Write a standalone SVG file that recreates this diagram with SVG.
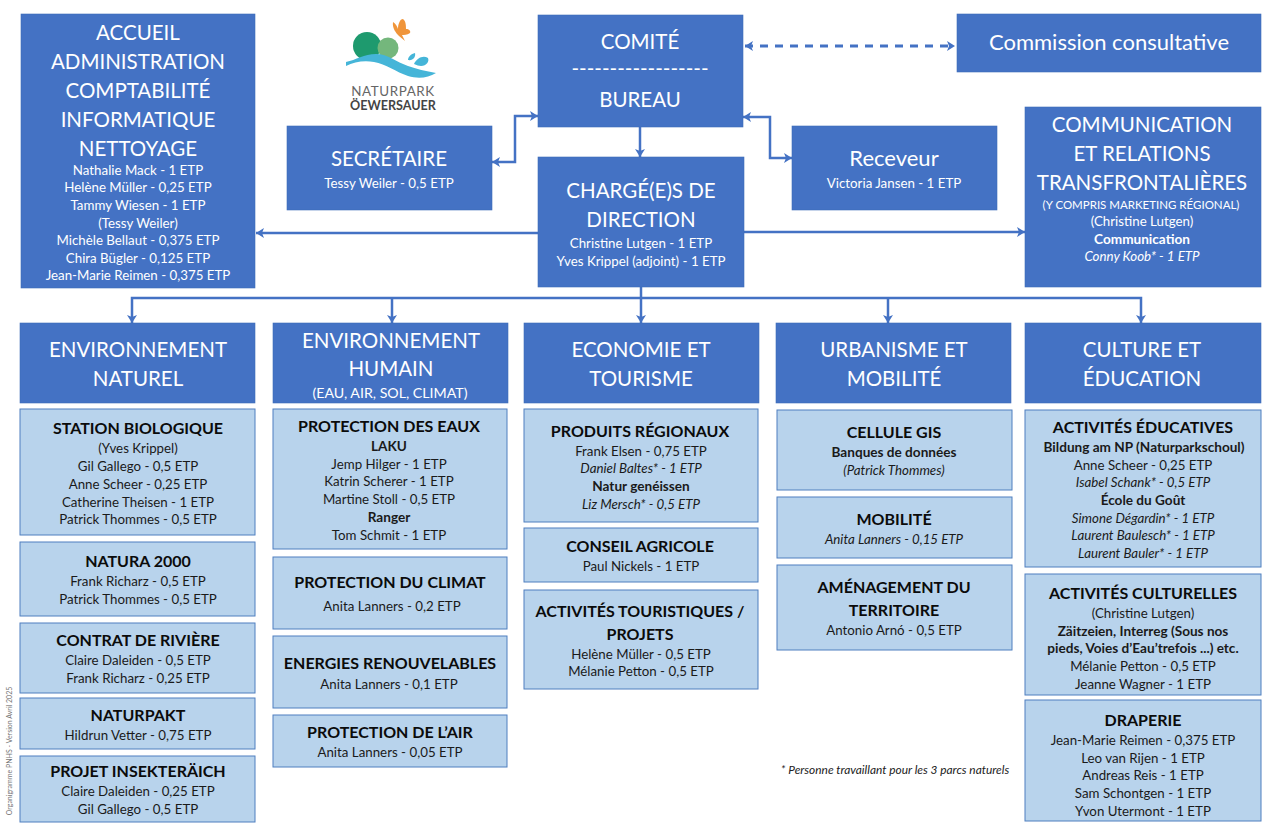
<svg xmlns="http://www.w3.org/2000/svg" width="1280" height="832" viewBox="0 0 1280 832">
<defs>
<style>
text{font-family:Lato,"Open Sans","Liberation Sans",sans-serif;text-anchor:middle}
.d{fill:#4472C4;stroke:#3F6DB8;stroke-width:.6}
.l{fill:#B8D3EC;stroke:#4F7FBF;stroke-width:1}
.t{font-size:20.5px;fill:#fff}
.m{font-size:22px;fill:#fff}
.n{font-size:13.3px;fill:#fff}
.h{font-size:16px;font-weight:700;fill:#0b0b0b}
.b{font-size:13.3px;fill:#1a1a1a}
.s{font-weight:700;font-size:13.6px}
.i{font-style:italic}
.c{fill:none;stroke:#4472C4;stroke-width:2.5}
</style>
<marker id="a" markerUnits="userSpaceOnUse" markerWidth="9" markerHeight="10" refX="8" refY="5" orient="auto-start-reverse"><path d="M0 0L8 5L0 10L2 5Z" fill="#4472C4"/></marker>
</defs>
<rect width="1280" height="832" fill="#fff"/>
<g id="connectors">
<path class="c" d="M745 46H955" style="stroke-width:3.2;stroke-dasharray:8 7" marker-start="url(#a)" marker-end="url(#a)"/>
<path class="c" d="M492 162H515V116H538" marker-start="url(#a)" marker-end="url(#a)"/>
<path class="c" d="M743 117H770V158H792" marker-start="url(#a)" marker-end="url(#a)"/>
<path class="c" d="M640 127V157" marker-end="url(#a)"/>
<path class="c" d="M538 233H256" marker-end="url(#a)"/>
<path class="c" d="M744 232H1025" marker-end="url(#a)"/>
<path class="c" d="M641 287V323" marker-end="url(#a)"/>
<path class="c" d="M132 323V298H1141V323" marker-start="url(#a)" marker-end="url(#a)"/>
<path class="c" d="M392 298V323" marker-end="url(#a)"/>
<path class="c" d="M888 298V323" marker-end="url(#a)"/>
</g>
<g id="logo">
<circle cx="367" cy="46" r="14" fill="#1E9A6E"/>
<circle cx="388" cy="48" r="10.5" fill="#74B77C"/>
<path d="M393 22C396 24 397 26 398 29C398 24 400 19 403 19C406 21 406 26 406 29C409 29 411 31 410 33C407 35 404 35 402 35L405 41L399 36C396 33 392 28 393 22Z" fill="#F0953A"/>
<path d="M346 62C356 60 364 54 376 54C388 54 396 62 408 66C416 69 426 71 436 73C428 78 418 79 408 76C396 72 386 64 374 62C364 60 354 62 346 66Z" fill="#45B5D8"/>
<path d="M414 64C417 58 423 55 428 58C430 63 424 69 414 64ZM408 60C408 57 411 54 415 53C416 57 413 61 408 60Z" fill="#45B5D8"/>
<text x="393" y="96" style="font-size:13.4px;letter-spacing:.6px" fill="#666">NATURPARK</text>
<text x="393" y="110" style="font-size:12.6px;font-weight:700" fill="#444">ÖEWERSAUER</text>
</g>
<g id="accueil"><rect class="d" x="21" y="14" width="234" height="274"/>
<text class="t" x="138" y="40">ACCUEIL</text><text class="t" x="138" y="69">ADMINISTRATION</text><text class="t" x="138" y="98">COMPTABILITÉ</text><text class="t" x="138" y="127">INFORMATIQUE</text><text class="t" x="138" y="156">NETTOYAGE</text>
<text class="n" x="138" y="175">Nathalie Mack - 1 ETP</text><text class="n" x="138" y="192">Helène Müller - 0,25 ETP</text><text class="n" x="138" y="210">Tammy Wiesen - 1 ETP</text><text class="n" x="138" y="228">(Tessy Weiler)</text><text class="n" x="138" y="245">Michèle Bellaut - 0,375 ETP</text><text class="n" x="138" y="263">Chira Bügler - 0,125 ETP</text><text class="n" x="138" y="280">Jean-Marie Reimen - 0,375 ETP</text></g>
<g id="secretaire"><rect class="d" x="287" y="126" width="205" height="84"/><text class="t" x="389" y="166">SECRÉTAIRE</text><text class="n" x="389" y="188">Tessy Weiler - 0,5 ETP</text></g>
<g id="comite"><rect class="d" x="538" y="15" width="205" height="112"/><text class="t" x="640" y="49">COMITÉ</text><text class="t" x="640" y="76">------------------</text><text class="t" x="640" y="107">BUREAU</text></g>
<g id="commission"><rect class="d" x="957" y="14" width="304" height="58"/><text class="m" x="1109" y="50">Commission consultative</text></g>
<g id="charge"><rect class="d" x="538" y="157" width="206" height="130"/><text class="t" x="641" y="198">CHARGÉ(E)S DE</text><text class="t" x="641" y="227">DIRECTION</text><text class="n" x="641" y="248">Christine Lutgen - 1 ETP</text><text class="n" x="641" y="266">Yves Krippel (adjoint)  - 1 ETP</text></g>
<g id="receveur"><rect class="d" x="792" y="126" width="205" height="84"/><text class="m" x="894" y="166">Receveur</text><text class="n" x="894" y="188">Victoria Jansen - 1 ETP</text></g>
<g id="communication"><rect class="d" x="1025" y="107" width="236" height="180"/><text class="t" x="1142" y="132">COMMUNICATION</text><text class="t" x="1142" y="161">ET RELATIONS</text><text class="t" x="1142" y="190">TRANSFRONTALIÈRES</text><text class="n" style="font-size:11.5px" x="1141" y="209">(Y COMPRIS MARKETING RÉGIONAL)</text><text class="n" x="1142" y="226">(Christine Lutgen)</text><text class="n s" x="1142" y="244">Communication</text><text class="n i" x="1142" y="261">Conny Koob* - 1 ETP</text></g>
<g id="head-1"><rect class="d" x="20" y="323" width="235" height="80"/><text class="t" x="138" y="357">ENVIRONNEMENT</text><text class="t" x="138" y="386">NATUREL</text></g>
<g id="head-2"><rect class="d" x="273" y="323" width="235" height="80"/><text class="t" x="391" y="348">ENVIRONNEMENT</text><text class="t" x="391" y="376">HUMAIN</text><text class="n" style="font-size:14.2px" x="390" y="398">(EAU, AIR, SOL, CLIMAT)</text></g>
<g id="head-3"><rect class="d" x="524" y="323" width="235" height="80"/><text class="t" x="641" y="357">ECONOMIE ET</text><text class="t" x="641" y="386">TOURISME</text></g>
<g id="head-4"><rect class="d" x="776" y="323" width="235" height="80"/><text class="t" x="894" y="357">URBANISME ET</text><text class="t" x="894" y="386">MOBILITÉ</text></g>
<g id="head-5"><rect class="d" x="1025" y="323" width="236" height="80"/><text class="t" x="1142" y="357">CULTURE ET</text><text class="t" x="1142" y="386">ÉDUCATION</text></g>
<g id="station"><rect class="l" x="20" y="409" width="235" height="126"/><text class="h" x="138" y="434">STATION BIOLOGIQUE</text><text class="b" x="138" y="453">(Yves Krippel)</text><text class="b" x="138" y="471">Gil Gallego - 0,5 ETP</text><text class="b" x="138" y="489">Anne Scheer - 0,25 ETP</text><text class="b" x="138" y="507">Catherine Theisen - 1 ETP</text><text class="b" x="138" y="524">Patrick Thommes - 0,5 ETP</text></g>
<g id="natura"><rect class="l" x="20" y="542" width="235" height="74"/><text class="h" x="138" y="567">NATURA 2000</text><text class="b" x="138" y="586">Frank Richarz - 0,5 ETP</text><text class="b" x="138" y="604">Patrick Thommes - 0,5 ETP</text></g>
<g id="contrat"><rect class="l" x="20" y="623" width="235" height="70"/><text class="h" x="138" y="646">CONTRAT DE RIVIÈRE</text><text class="b" x="138" y="665">Claire Daleiden - 0,5 ETP</text><text class="b" x="138" y="683">Frank Richarz - 0,25 ETP</text></g>
<g id="naturpakt"><rect class="l" x="20" y="698" width="235" height="51"/><text class="h" x="138" y="721">NATURPAKT</text><text class="b" x="138" y="740">Hildrun Vetter - 0,75 ETP</text></g>
<g id="insekter"><rect class="l" x="20" y="756" width="235" height="66"/><text class="h" x="138" y="777">PROJET INSEKTERÄICH</text><text class="b" x="138" y="796">Claire Daleiden - 0,25 ETP</text><text class="b" x="138" y="814">Gil Gallego - 0,5 ETP</text></g>
<g id="eaux"><rect class="l" x="273" y="409" width="234" height="140"/><text class="h" x="389" y="432">PROTECTION DES EAUX</text><text class="b s" x="389" y="451">LAKU</text><text class="b" x="389" y="469">Jemp Hilger - 1 ETP</text><text class="b" x="389" y="486">Katrin Scherer - 1 ETP</text><text class="b" x="389" y="504">Martine Stoll - 0,5 ETP</text><text class="b s" x="389" y="522">Ranger</text><text class="b" x="389" y="540">Tom Schmit - 1 ETP</text></g>
<g id="climat"><rect class="l" x="273" y="557" width="234" height="72"/><text class="h" x="390" y="588">PROTECTION DU CLIMAT</text><text class="b" x="392" y="611">Anita Lanners - 0,2 ETP</text></g>
<g id="energies"><rect class="l" x="273" y="636" width="234" height="72"/><text class="h" x="390" y="669">ENERGIES RENOUVELABLES</text><text class="b" x="389" y="689">Anita Lanners - 0,1 ETP</text></g>
<g id="air"><rect class="l" x="273" y="715" width="234" height="52"/><text class="h" x="390" y="738">PROTECTION DE L’AIR</text><text class="b" x="390" y="757">Anita Lanners - 0,05 ETP</text></g>
<g id="produits"><rect class="l" x="524" y="409" width="234" height="113"/><text class="h" x="640" y="437">PRODUITS RÉGIONAUX</text><text class="b" x="641" y="456">Frank Elsen - 0,75 ETP</text><text class="b i" x="641" y="473">Daniel Baltes* - 1 ETP</text><text class="b s" x="641" y="491">Natur genéissen</text><text class="b i" x="641" y="509">Liz Mersch* - 0,5 ETP</text></g>
<g id="conseil"><rect class="l" x="524" y="528" width="234" height="54"/><text class="h" x="640" y="552">CONSEIL AGRICOLE</text><text class="b" x="641" y="571">Paul Nickels - 1 ETP</text></g>
<g id="touristiques"><rect class="l" x="524" y="590" width="234" height="99"/><text class="h" x="640" y="617">ACTIVITÉS TOURISTIQUES /</text><text class="h" x="640" y="640">PROJETS</text><text class="b" x="641" y="659">Helène Müller - 0,5 ETP</text><text class="b" x="641" y="676">Mélanie Petton - 0,5 ETP</text></g>
<g id="gis"><rect class="l" x="777" y="410" width="235" height="80"/><text class="h" x="894" y="438">CELLULE GIS</text><text class="b s" x="894" y="457">Banques de données</text><text class="b i" x="894" y="475">(Patrick Thommes)</text></g>
<g id="mobilite"><rect class="l" x="777" y="497" width="235" height="61"/><text class="h" x="894" y="525">MOBILITÉ</text><text class="b i" x="894" y="544">Anita Lanners - 0,15 ETP</text></g>
<g id="amenagement"><rect class="l" x="777" y="565" width="235" height="85"/><text class="h" x="894" y="593">AMÉNAGEMENT DU</text><text class="h" x="894" y="616">TERRITOIRE</text><text class="b" x="894" y="635">Antonio Arnó - 0,5 ETP</text></g>
<g id="educatives"><rect class="l" x="1025" y="410" width="236" height="157"/><text class="h" x="1143" y="433">ACTIVITÉS ÉDUCATIVES</text><text class="b s" x="1144" y="452">Bildung am NP (Naturparkschoul)</text><text class="b" x="1143" y="470">Anne Scheer - 0,25 ETP</text><text class="b i" x="1143" y="487">Isabel Schank* - 0,5 ETP</text><text class="b s" x="1143" y="505">École du Goût</text><text class="b i" x="1143" y="523">Simone Dégardin* - 1 ETP</text><text class="b i" x="1143" y="540">Laurent Baulesch* - 1 ETP</text><text class="b i" x="1143" y="558">Laurent Bauler* - 1 ETP</text></g>
<g id="culturelles"><rect class="l" x="1025" y="574" width="236" height="121"/><text class="h" x="1143" y="599">ACTIVITÉS CULTURELLES</text><text class="b" x="1143" y="618">(Christine Lutgen)</text><text class="b s" x="1143" y="636">Zäitzeien, Interreg (Sous nos</text><text class="b s" x="1143" y="653">pieds, Voies d’Eau’trefois ...) etc.</text><text class="b" x="1143" y="671">Mélanie Petton - 0,5 ETP</text><text class="b" x="1143" y="689">Jeanne Wagner - 1 ETP</text></g>
<g id="draperie"><rect class="l" x="1025" y="700" width="236" height="121"/><text class="h" x="1143" y="726">DRAPERIE</text><text class="b" x="1143" y="745">Jean-Marie Reimen - 0,375 ETP</text><text class="b" x="1143" y="763">Leo van Rijen - 1 ETP</text><text class="b" x="1143" y="780">Andreas Reis - 1 ETP</text><text class="b" x="1143" y="798">Sam Schontgen - 1 ETP</text><text class="b" x="1143" y="816">Yvon Utermont - 1 ETP</text></g>
<g id="notes"><text class="i" x="895" y="774" style="font-size:11.9px" fill="#222">* Personne travaillant pour les 3 parcs naturels</text>
<text transform="translate(12 751) rotate(-90)" style="font-size:7px" fill="#777">Organigramme PNHS - Version Avril 2025</text></g>
</svg>
